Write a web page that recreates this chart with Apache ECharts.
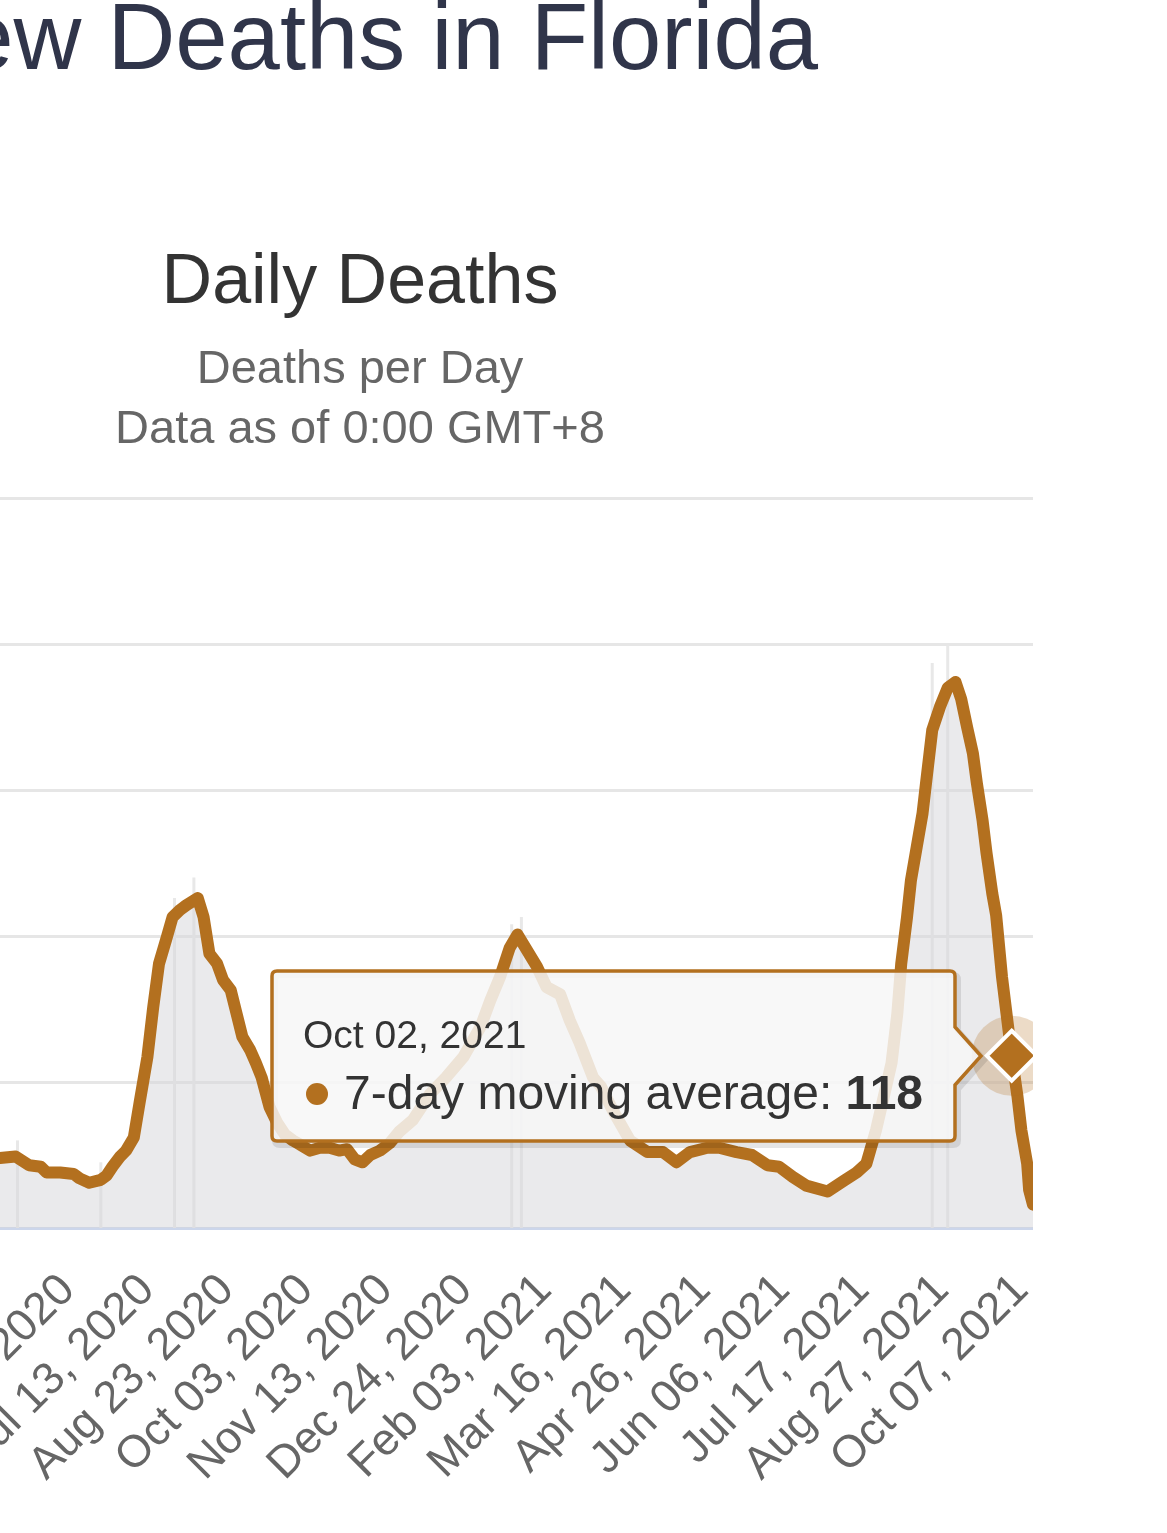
<!DOCTYPE html>
<html lang="en">
<head>
    <meta charset="UTF-8">
    <title>Daily Deaths - Florida</title>
    <style>
        html, body { margin: 0; padding: 0; background: #fff; overflow: hidden; }
        /* the page is a crop of a wider chart: the left part falls outside the window */
        #main { position: absolute; left: -313px; top: 0; width: 1346px; height: 1533px; overflow: hidden; }
    </style>
</head>
<body>

<div id="main"></div>

<script src="https://cdn.jsdelivr.net/npm/echarts/dist/echarts.min.js"></script>
<script>
    var FONT = "'Liberation Sans', Arial, Helvetica, sans-serif";
    var LINE_COLOR = '#b3701f';

    // x categories: one per day, Mar 12, 2020 .. Oct 13, 2021
    var monthNames = ['Jan', 'Feb', 'Mar', 'Apr', 'May', 'Jun', 'Jul', 'Aug', 'Sep', 'Oct', 'Nov', 'Dec'];
    var categories = [];
    for (var i = 0; i < 581; i++) {
        var d = new Date(Date.UTC(2020, 2, 12 + i));
        var dd = d.getUTCDate();
        categories.push(monthNames[d.getUTCMonth()] + ' ' + (dd < 10 ? '0' + dd : dd) + ', ' + d.getUTCFullYear());
    }

    // 7-day moving average
    var avgDates = [
        'Mar 12, 2020', 'Mar 20, 2020', 'Mar 28, 2020', 'Apr 04, 2020', 'Apr 11, 2020', 'Apr 18, 2020', 'Apr 24, 2020',
        'Apr 28, 2020', 'May 06, 2020', 'May 13, 2020', 'May 19, 2020', 'May 22, 2020', 'May 29, 2020', 'Jun 05, 2020',
        'Jun 08, 2020', 'Jun 13, 2020', 'Jun 19, 2020', 'Jun 22, 2020', 'Jun 25, 2020', 'Jun 29, 2020', 'Jul 02, 2020',
        'Jul 06, 2020', 'Jul 09, 2020', 'Jul 13, 2020', 'Jul 16, 2020', 'Jul 19, 2020', 'Jul 23, 2020', 'Jul 26, 2020',
        'Jul 30, 2020', 'Aug 02, 2020', 'Aug 08, 2020', 'Aug 11, 2020', 'Aug 14, 2020', 'Aug 18, 2020', 'Aug 21, 2020',
        'Aug 25, 2020', 'Aug 28, 2020', 'Aug 31, 2020', 'Sep 04, 2020', 'Sep 07, 2020', 'Sep 10, 2020', 'Sep 14, 2020',
        'Sep 18, 2020', 'Sep 22, 2020', 'Sep 26, 2020', 'Sep 30, 2020', 'Oct 05, 2020', 'Oct 10, 2020', 'Oct 15, 2020',
        'Oct 20, 2020', 'Oct 24, 2020', 'Oct 28, 2020', 'Nov 01, 2020', 'Nov 05, 2020', 'Nov 10, 2020', 'Nov 15, 2020',
        'Nov 20, 2020', 'Nov 27, 2020', 'Dec 06, 2020', 'Dec 14, 2020', 'Dec 23, 2020', 'Jan 01, 2021', 'Jan 06, 2021',
        'Jan 11, 2021', 'Jan 16, 2021', 'Jan 20, 2021', 'Jan 25, 2021', 'Jan 30, 2021', 'Feb 04, 2021', 'Feb 11, 2021',
        'Feb 16, 2021', 'Feb 21, 2021', 'Feb 28, 2021', 'Mar 04, 2021', 'Mar 10, 2021', 'Mar 19, 2021', 'Mar 28, 2021',
        'Apr 05, 2021', 'Apr 12, 2021', 'Apr 19, 2021', 'Apr 28, 2021', 'May 04, 2021', 'May 13, 2021', 'May 21, 2021',
        'May 29, 2021', 'Jun 04, 2021', 'Jun 11, 2021', 'Jun 18, 2021', 'Jun 29, 2021', 'Jul 07, 2021', 'Jul 14, 2021',
        'Jul 19, 2021', 'Jul 24, 2021', 'Jul 28, 2021', 'Aug 01, 2021', 'Aug 04, 2021', 'Aug 06, 2021', 'Aug 09, 2021',
        'Aug 11, 2021', 'Aug 14, 2021', 'Aug 17, 2021', 'Aug 19, 2021', 'Aug 22, 2021', 'Aug 26, 2021', 'Aug 30, 2021',
        'Sep 03, 2021', 'Sep 06, 2021', 'Sep 09, 2021', 'Sep 12, 2021', 'Sep 14, 2021', 'Sep 17, 2021', 'Sep 19, 2021',
        'Sep 22, 2021', 'Sep 24, 2021', 'Sep 27, 2021', 'Oct 02, 2021', 'Oct 05, 2021', 'Oct 07, 2021', 'Oct 10, 2021',
        'Oct 11, 2021', 'Oct 13, 2021'
    ];
    var avgValues = [
        1, 3, 9, 22, 38, 46, 47,
        48, 49, 43, 42, 38, 38, 37,
        34, 31, 33, 36, 42, 49, 53,
        62, 86, 117, 151, 181, 199, 213,
        218, 221, 226, 213, 188, 181, 170,
        163, 147, 131, 122, 113, 103, 83,
        72, 64, 60, 57, 53, 55, 55,
        53, 54, 47, 45, 50, 53, 58,
        66, 74, 92, 103, 117, 138, 156,
        172, 192, 201, 190, 179, 165, 160,
        142, 127, 103, 97, 81, 60, 52,
        52, 45, 52, 55, 55, 52, 50,
        43, 42, 35, 29, 25, 32, 38,
        44, 67, 90, 113, 147, 181, 213,
        238, 261, 284, 307, 341, 357, 370,
        374, 362, 343, 325, 305, 279, 257,
        229, 214, 172, 118, 90, 67, 44,
        26, 16
    ];

    // the few daily-death bars that stick out above the average
    var spikeDates = ['May 07, 2020', 'Jun 19, 2020', 'Jul 27, 2020', 'Aug 06, 2020', 'Jan 17, 2021', 'Jan 22, 2021', 'Aug 22, 2021', 'Aug 30, 2021'];
    var spikeValues = [60, 45, 226, 240, 208, 213, 387, 399];

    var yTicks = [0, 100, 200, 300, 400, 500];

    var highlightDate = 'Oct 02, 2021';
    var highlightValue = 118;
    var highlightName = '7-day moving average';

    function pairs(dates, values) {
        return dates.map(function (d, k) { return [d, values[k]]; });
    }

    // tooltip box drawn as one path, with the callout pointing right
    var TIP_PATH = 'M7,2 H680 Q685,2 685,7 V58 L711,87 L685,116 V167 Q685,172 680,172 H7 Q2,172 2,167 V7 Q2,2 7,2 Z';

    function tipHtml(p) {
        var date = typeof p.value[0] === 'number' ? categories[p.value[0]] : p.value[0];
        return '<div style="position:relative;width:716px;height:180px;">' +
            '<svg width="716" height="180" style="position:absolute;left:0;top:0;overflow:visible;font-family:' + FONT.replace(/'/g, '') + '">' +
            '<path d="' + TIP_PATH + '" transform="translate(3,4)" fill="none" stroke="rgba(0,0,0,0.10)" stroke-width="6"/>' +
            '<path d="' + TIP_PATH + '" fill="rgba(247,247,247,0.85)" stroke="' + LINE_COLOR + '" stroke-width="3.5"/>' +
            '<text x="33" y="79" font-size="39" fill="#333333">' + date + '</text>' +
            '<circle cx="47" cy="125" r="11" fill="' + LINE_COLOR + '"/>' +
            '<text x="74" y="140" font-size="48" fill="#333333">' + p.seriesName + ': <tspan font-weight="bold">' + p.value[1] + '</tspan></text>' +
            '</svg></div>';
    }

    var myChart = echarts.init(document.getElementById('main'));

    var option = {
        animation: false,
        textStyle: { fontFamily: FONT },
        title: [
            {
                text: 'New Deaths in Florida',
                right: 215, top: -4, padding: 0,
                textStyle: { fontSize: 94, fontWeight: 'normal', color: '#30354a', fontFamily: FONT }
            },
            {
                text: 'Daily Deaths',
                left: 'center', top: 249, padding: 0,
                textStyle: { fontSize: 70, fontWeight: 'normal', color: '#333333', fontFamily: FONT }
            },
            {
                text: 'Deaths per Day',
                left: 'center', top: 347, padding: 0,
                textStyle: { fontSize: 47, fontWeight: 'normal', color: '#666666', fontFamily: FONT }
            },
            {
                text: 'Data as of 0:00 GMT+8',
                left: 'center', top: 407, padding: 0,
                textStyle: { fontSize: 47, fontWeight: 'normal', color: '#666666', fontFamily: FONT }
            }
        ],
        grid: { left: 222, right: 0, top: 498, bottom: 305, outerBoundsMode: 'none' },
        tooltip: {
            trigger: 'item',
            triggerOn: 'none',
            alwaysShowContent: true,
            showDelay: 0,
            transitionDuration: 0,
            backgroundColor: 'transparent',
            borderWidth: 0,
            padding: 0,
            extraCssText: 'box-shadow:none;',
            position: function (point) { return [point[0] - 742, point[1] - 87]; },
            formatter: tipHtml
        },
        xAxis: {
            type: 'category',
            data: categories,
            boundaryGap: false,
            axisLine: { lineStyle: { color: '#ccd6eb', width: 3 } },
            axisTick: { show: false },
            splitLine: { show: false },
            axisLabel: {
                interval: 40,
                rotate: 45,
                margin: 55,
                fontSize: 45,
                color: '#666666',
                fontFamily: FONT,
                showMinLabel: true
            }
        },
        yAxis: {
            type: 'value',
            min: yTicks[0],
            max: yTicks[yTicks.length - 1],
            interval: yTicks[1] - yTicks[0],
            axisLine: { show: false },
            axisTick: { show: false },
            axisLabel: { fontSize: 44, color: '#666666', fontFamily: FONT },
            splitLine: { lineStyle: { color: '#e6e6e6', width: 3 } }
        },
        series: [
            {
                name: 'Daily Deaths',
                type: 'bar',
                data: pairs(spikeDates, spikeValues),
                barWidth: 3,
                itemStyle: { color: '#e8e8e8' },
                silent: true,
                z: 1
            },
            {
                name: highlightName,
                type: 'line',
                data: pairs(avgDates, avgValues),
                showSymbol: false,
                symbol: 'none',
                lineStyle: { width: 12, color: LINE_COLOR, join: 'round', cap: 'round' },
                areaStyle: { color: 'rgba(214,214,218,0.5)', opacity: 1 },
                silent: true,
                z: 2
            },
            {
                name: 'halo',
                type: 'scatter',
                data: [[highlightDate, highlightValue]],
                symbol: 'circle',
                symbolSize: 80,
                itemStyle: { color: 'rgba(179,112,31,0.25)', opacity: 1 },
                silent: true,
                z: 3
            },
            {
                name: highlightName,
                type: 'scatter',
                data: [[highlightDate, highlightValue]],
                symbol: 'diamond',
                symbolSize: 50,
                itemStyle: { color: LINE_COLOR, borderColor: '#ffffff', borderWidth: 4, opacity: 1 },
                emphasis: { disabled: true },
                z: 4
            }
        ]
    };
    myChart.setOption(option);
    myChart.dispatchAction({ type: 'showTip', seriesIndex: 3, dataIndex: 0 });
</script>
</body>
</html>
